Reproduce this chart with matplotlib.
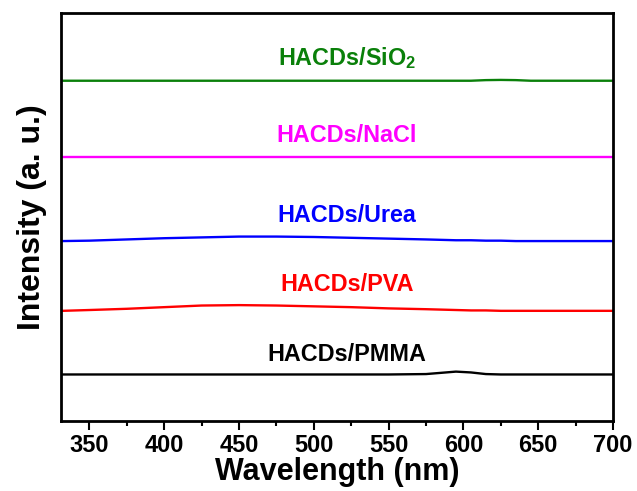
import matplotlib
matplotlib.use("Agg")
import matplotlib.pyplot as plt

plt.rcParams["font.family"] = ["Liberation Sans", "DejaVu Sans"]
plt.rcParams["font.weight"] = "bold"
plt.rcParams["mathtext.fontset"] = "custom"
plt.rcParams["mathtext.rm"] = "Liberation Sans:bold"
plt.rcParams["mathtext.bf"] = "Liberation Sans:bold"
plt.rcParams["mathtext.default"] = "bf"

# Emission spectra (offset for clarity), arbitrary units
wavelength = [332, 350, 375, 400, 425, 450, 475, 500, 525, 550, 575, 585,
              595, 605, 615, 625, 635, 645, 660, 680, 700]

pmma = [11.4, 11.4, 11.4, 11.4, 11.4, 11.4, 11.4, 11.4, 11.4, 11.4, 11.5, 11.8,
        12.1, 11.9, 11.5, 11.4, 11.4, 11.4, 11.4, 11.4, 11.4]
pva = [27.0, 27.2, 27.5, 27.9, 28.3, 28.4, 28.3, 28.1, 27.9, 27.6, 27.4, 27.3,
       27.2, 27.1, 27.1, 27.0, 27.0, 27.0, 27.0, 27.0, 27.0]
urea = [44.1, 44.2, 44.5, 44.8, 45.0, 45.2, 45.2, 45.1, 44.9, 44.7, 44.5, 44.4,
        44.3, 44.3, 44.2, 44.2, 44.1, 44.1, 44.1, 44.1, 44.1]
nacl = [64.6, 64.6, 64.6, 64.6, 64.6, 64.6, 64.6, 64.6, 64.6, 64.6, 64.6, 64.6,
        64.6, 64.6, 64.6, 64.6, 64.6, 64.6, 64.6, 64.6, 64.6]
sio2 = [83.4, 83.4, 83.4, 83.4, 83.4, 83.4, 83.4, 83.4, 83.4, 83.4, 83.4, 83.4,
        83.4, 83.4, 83.55, 83.6, 83.55, 83.4, 83.4, 83.4, 83.4]

series = [pmma, pva, urea, nacl, sio2]
names = ["HACDs/PMMA", "HACDs/PVA", "HACDs/Urea", "HACDs/NaCl", "HACDs/SiO$_2$"]
colors = ["#000000", "#ff0000", "#0000ff", "#ff00ff", "#0a800a"]
label_x = 522
label_y = [14.7, 31.9, 48.8, 68.4, 87.3]

fig = plt.figure(figsize=(6.37, 4.91), dpi=100)
ax = fig.add_axes([0.0958, 0.1426, 0.8665, 0.8309])

for ys, name, c, ly in zip(series, names, colors, label_y):
    ax.plot(wavelength, ys, color=c, lw=1.7)
    ax.text(label_x, ly, name, color=c, fontsize=16.8, fontweight="bold",
            ha="center", va="baseline")

ax.set_xlim(331, 700)
ax.set_ylim(0, 100)
ax.set_xticks([350, 400, 450, 500, 550, 600, 650, 700])
ax.set_xticks([375, 425, 475, 525, 575, 625, 675], minor=True)
ax.set_yticks([])
ax.tick_params(axis="x", which="major", direction="out", length=6.5, width=1.5,
               labelsize=17, pad=3)
ax.tick_params(axis="x", which="minor", direction="out", length=3.5, width=1.5)
for lab in ax.get_xticklabels():
    lab.set_fontweight("bold")
for sp in ax.spines.values():
    sp.set_linewidth(2.0)

ax.set_xlabel("Wavelength (nm)", fontsize=22, fontweight="bold", labelpad=0)
ax.set_ylabel("Intensity (a. u.)", fontsize=23, fontweight="bold", labelpad=10)

fig.savefig("out.png", dpi=100)
